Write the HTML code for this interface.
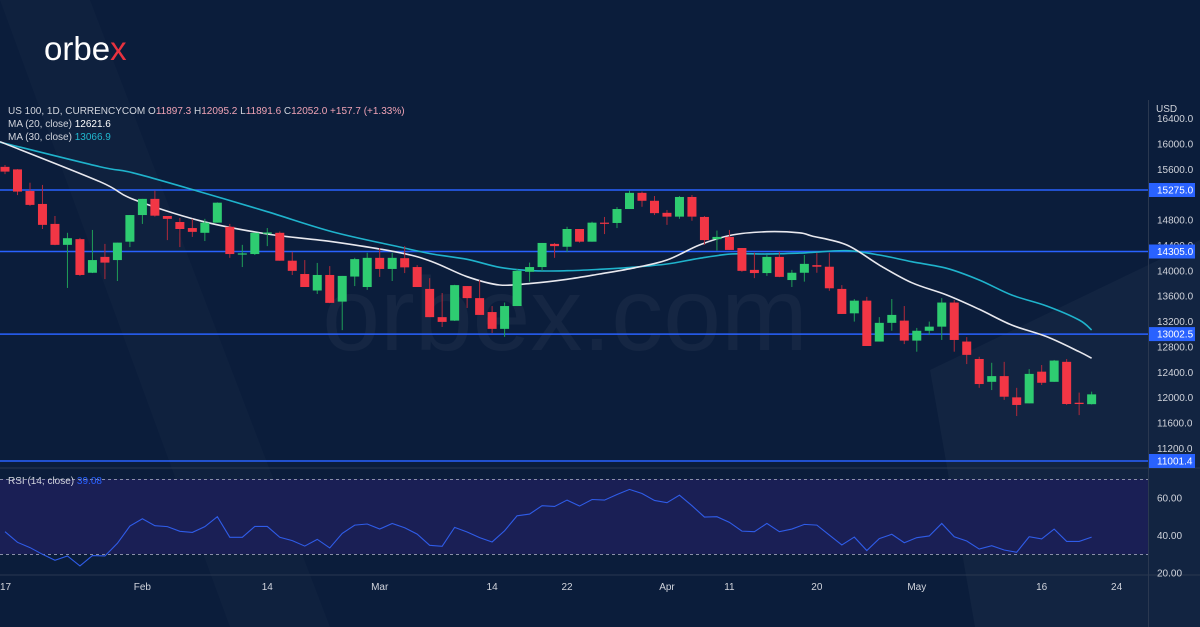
<!DOCTYPE html>
<html><head><meta charset="utf-8">
<style>
html,body{margin:0;padding:0;background:#0b1d3b;}
#wrap{position:relative;width:1200px;height:627px;overflow:hidden;background:#0b1d3b;font-family:"Liberation Sans",sans-serif;}
svg{position:absolute;left:0;top:0;}
</style></head>
<body>
<div id="wrap">
<svg id="chart" width="1200" height="627" viewBox="0 0 1200 627">
  <rect x="0" y="0" width="1200" height="627" fill="#0b1d3b"/>
  <polygon points="0,0 90,0 330,627 230,627" fill="rgba(255,255,255,0.018)"/>
  <polygon points="930,370 1200,240 1200,627 975,627" fill="rgba(255,255,255,0.03)"/>
  <text x="565" y="350" text-anchor="middle" font-size="104" fill="rgba(255,255,255,0.045)" font-family="Liberation Sans, sans-serif">orbex.com</text>
  <text x="44" y="60" font-size="33" fill="#ffffff" font-family="Liberation Sans, sans-serif">orbe<tspan fill="#e8323f">x</tspan></text>
  <rect x="0" y="479" width="1148" height="75" fill="#1a1f55"/>
  <line x1="0" y1="479.5" x2="1148" y2="479.5" stroke="#8a8fa8" stroke-dasharray="3,3" stroke-width="1"/>
  <line x1="0" y1="554.5" x2="1148" y2="554.5" stroke="#8a8fa8" stroke-dasharray="3,3" stroke-width="1"/>
  <line x1="0" y1="468" x2="1200" y2="468" stroke="#2a3850" stroke-width="1"/>
  <line x1="0" y1="575" x2="1200" y2="575" stroke="#2a3850" stroke-width="1"/>
  <line x1="1148.5" y1="100" x2="1148.5" y2="627" stroke="#2a3850" stroke-width="1"/>
  <g id="hlines"></g>
  <g id="mas"></g>
  <g id="candles"></g>
  <g id="rsi"></g>
  <g id="axis"></g>
  <text x="1156" y="112" font-size="10" fill="#d1d4dc">USD</text>
  <text x="8" y="114" font-size="10" fill="#d1d4dc">US 100, 1D, CURRENCYCOM  O<tspan fill="#f0a3b5">11897.3</tspan>  H<tspan fill="#f0a3b5">12095.2</tspan>  L<tspan fill="#f0a3b5">11891.6</tspan>  C<tspan fill="#f0a3b5">12052.0  +157.7 (+1.33%)</tspan></text>
  <text x="8" y="127" font-size="10" fill="#d1d4dc">MA (20, close)  <tspan fill="#ffffff">12621.6</tspan></text>
  <text x="8" y="140" font-size="10" fill="#d1d4dc">MA (30, close)  <tspan fill="#22b8cf">13066.9</tspan></text>
  <text x="8" y="484" font-size="10" fill="#d1d4dc">RSI (14, close)  <tspan fill="#2962ff">39.08</tspan></text>
</svg>
</div>
<script>
const opens=[15640,15600,15260,15055,14740,14410,14500,13970,14220,14170,14460,14880,15135,14865,14770,14675,14600,14760,14695,14260,14265,14590,14600,14160,13950,13690,13935,13515,13910,13745,14205,14030,14200,14060,13715,13270,13215,13760,13570,13350,13085,13445,13985,14060,14425,14380,14660,14460,14760,14755,14975,15230,15105,14915,14855,15165,14850,14500,14535,14360,14015,13965,14220,13855,13970,14090,14065,13715,13330,13530,12885,13180,13215,12900,13055,13120,13500,12885,12610,12250,12340,12005,11910,12410,12250,12565,11920,11897.3];
const highs=[15670,15605,15390,15355,14865,14600,14520,14645,14425,14445,14880,15135,15265,14865,14835,14820,14820,15080,14740,14410,14600,14675,14620,14300,14170,14125,14075,13920,14205,14285,14360,14285,14390,14090,13885,13650,13780,13760,13855,13445,13500,14030,14130,14440,14440,14695,14660,14775,14850,15005,15265,15250,15180,14960,15180,15195,14865,14635,14645,14360,14285,14250,14300,14015,14250,14285,14285,13775,13555,13590,13270,13555,13445,13100,13200,13570,13540,12955,12645,12550,12565,12155,12450,12515,12595,12610,12080,12095.2];
const lows=[15525,15195,15025,14660,14405,13730,13920,13965,13870,13840,14375,14740,14855,14485,14375,14535,14470,14760,14205,14060,14250,14390,14160,13935,13745,13635,13490,13065,13760,13700,13905,13840,13965,13745,13270,13115,13210,13415,13305,13020,12960,13445,13830,14000,14205,14300,14445,14460,14580,14675,14975,15010,14880,14725,14820,14790,14410,14320,14330,13985,13885,13920,13900,13745,13830,13970,13685,13320,13200,12815,12885,13055,12845,12725,12990,12910,12725,12530,12155,12120,11965,11710,11910,12200,12250,11885,11725,11891.6];
const closes=[15565,15250,15040,14725,14410,14515,13935,14170,14130,14445,14880,15135,14870,14820,14660,14615,14760,15075,14265,14275,14600,14605,14160,14000,13745,13935,13495,13920,14185,14205,14030,14205,14055,13745,13270,13195,13775,13570,13305,13085,13445,14000,14060,14440,14390,14660,14460,14760,14750,14975,15230,15105,14910,14855,15165,14855,14485,14535,14330,14000,13965,14220,13905,13970,14110,14065,13725,13320,13530,12815,13180,13305,12900,13055,13120,13500,12910,12675,12215,12340,12015,11885,12375,12235,12585,11900,11900,12052.0];
const maDays=[-0.4,7.6,10.2,15.6,21,26.2,31.6,34.2,37,39.6,42.2,45,47.6,50.2,53,55.6,58.2,61,63.6,64.6,67.4,70,72.6,75.4,78,80.6,83.4,86,87];
const ma20=[16037,15406,15133,14791,14581,14460,14286,14144,13908,13777,13804,13867,13950,14040,14171,14408,14565,14617,14600,14550,14408,14092,13813,13619,13394,13146,12962,12725,12622];
const ma30=[16030,15642,15548,15248,14933,14617,14376,14266,14182,14056,14002,14002,14024,14056,14108,14198,14266,14266,14280,14290,14318,14250,14144,14040,13856,13619,13446,13225,13067];
const rsiVals=[42.1,36.4,33.6,30.0,26.8,29.1,23.8,29.3,29.1,35.9,45.1,49.0,45.3,44.8,42.3,41.7,44.8,50.1,39.1,39.1,44.9,44.9,39.1,37.3,34.4,38.0,33.4,41.2,45.6,46.2,43.5,46.5,44.2,40.8,34.8,34.3,44.4,41.9,38.9,36.6,42.6,50.6,51.5,56.0,55.6,59.0,55.8,59.3,59.0,62.0,64.7,62.5,58.8,57.6,61.6,56.0,49.9,50.1,47.1,42.4,42.1,46.5,42.1,43.5,46.0,45.6,40.3,35.0,39.2,32.0,38.4,40.7,36.2,38.9,39.8,46.5,39.4,37.1,32.8,34.6,32.3,31.1,39.4,38.2,43.5,36.9,36.9,39.2];
const levels=[15275.0,14305.0,13002.5,11001.4];
const levelLabels=["15275.0","14305.0","13002.5","11001.4"];
const priceTicks=[16400,16000,15600,14800,14400,14000,13600,13200,12800,12400,12000,11600,11200];
const rsiTicks=[60,40,20];
const dateLabels=["17","Feb","14","Mar","14","22","Apr","11","20","May","16","24"];
const dateIdx=[0,11,21,30,39,45,53,58,65,73,83,89];

const NS="http://www.w3.org/2000/svg";
function xOf(i){return 5+i*12.49;}
function yP(p){return 190+(15275-p)*0.06341;}
function yR(v){return 573-(v-20)*1.87;}
function mk(tag,attrs,parent){const e=document.createElementNS(NS,tag);for(const k in attrs)e.setAttribute(k,attrs[k]);parent.appendChild(e);return e;}

const gH=document.getElementById('hlines');
levels.forEach((lv,k)=>{
  const y=yP(lv);
  const l=mk('line',{x1:0,x2:1148,y1:y,y2:y,stroke:'#2962ff','stroke-width':1.5},gH);
  
  
});

const gM=document.getElementById('mas');
function smoothPath(days,vals){
  const pts=days.map((d,i)=>[xOf(d),yP(vals[i])]);
  let s='M'+pts[0][0]+','+pts[0][1];
  for(let i=0;i<pts.length-1;i++){
    const p0=pts[Math.max(0,i-1)],p1=pts[i],p2=pts[i+1],p3=pts[Math.min(pts.length-1,i+2)];
    const c1=[p1[0]+(p2[0]-p0[0])/6,p1[1]+(p2[1]-p0[1])/6];
    const c2=[p2[0]-(p3[0]-p1[0])/6,p2[1]-(p3[1]-p1[1])/6];
    s+=' C'+c1[0]+','+c1[1]+' '+c2[0]+','+c2[1]+' '+p2[0]+','+p2[1];
  }
  return s;
}
const m30=mk('path',{d:smoothPath(maDays,ma30),fill:'none',stroke:'#1fb3cc','stroke-width':1.6},gM);


const m20=mk('path',{d:smoothPath(maDays,ma20),fill:'none',stroke:'#e8e8ee','stroke-width':1.6},gM);



const gC=document.getElementById('candles');
opens.forEach((o,i)=>{
  const c=closes[i],up=c>=o,col=up?'#2ecc71':'#f23645',x=xOf(i);
  const g=mk('g',{},gC);
  
  
  mk('line',{x1:x,x2:x,y1:yP(highs[i]),y2:yP(lows[i]),stroke:up?'#1f9e57':'#b02a3a','stroke-width':1},g);
  const top=yP(Math.max(o,c)),bot=yP(Math.min(o,c));
  mk('rect',{x:x-4.5,y:top,width:9,height:Math.max(1.2,bot-top),fill:col},g);
});

const gR=document.getElementById('rsi');
const rp=mk('polyline',{points:rsiVals.map((v,i)=>xOf(i)+','+yR(v)).join(' '),fill:'none',stroke:'#2f5ce8','stroke-width':1.1},gR);



const gA=document.getElementById('axis');
priceTicks.forEach(p=>{
  const t=mk('text',{x:1157,y:yP(p)+3.5,'font-size':10,fill:'#d1d4dc'},gA);
  t.textContent=p.toFixed(1);
  
  
});
levels.forEach((lv,k)=>{
  const y=yP(lv);
  const r=mk('rect',{x:1149,y:y-7,width:46,height:14,fill:'#2962ff'},gA);
  
  
  const t=mk('text',{x:1157,y:y+3.5,'font-size':10,fill:'#ffffff'},gA);
  t.textContent=levelLabels[k];
  
  
});
rsiTicks.forEach(v=>{
  const t=mk('text',{x:1157,y:yR(v)+3.5,'font-size':10,fill:'#d1d4dc'},gA);
  t.textContent=v.toFixed(2);
  
  
});
dateLabels.forEach((d,k)=>{
  const t=mk('text',{x:xOf(dateIdx[k]),y:590,'font-size':10,fill:'#d1d4dc','text-anchor':k==0?'start':'middle'},gA);
  if(k==0)t.setAttribute('x',0);
  t.textContent=d;
  
  
});
</script>
</body></html>
